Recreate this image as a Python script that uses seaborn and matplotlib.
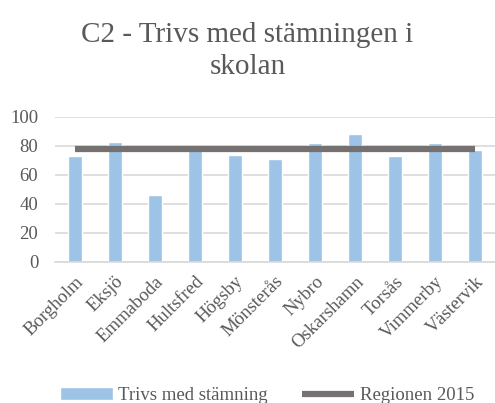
import matplotlib
matplotlib.use("Agg")
import matplotlib.pyplot as plt
import seaborn as sns
import pandas as pd

# data
kommuner = ["Borgholm", "Eksjö", "Emmaboda", "Hultsfred", "Högsby", "Mönsterås",
            "Nybro", "Oskarshamn", "Torsås", "Vimmerby", "Västervik"]
trivs = [73, 83, 46, 77, 74, 71, 82, 88, 73, 82, 77]
regionen = [78] * len(kommuner)

df = pd.DataFrame({"kommun": kommuner, "trivs": trivs, "region": regionen})

sns.set_style("white")
plt.rcParams['font.family'] = ['Liberation Serif', 'DejaVu Serif']

fig = plt.figure(figsize=(4.95, 4.03), dpi=100)
ax = fig.add_axes([0.111, 0.35, 0.889, 0.36])

sns.barplot(data=df, x="kommun", y="trivs", color="#9DC3E6", width=0.33,
            saturation=1, ax=ax, label="Trivs med stämning", zorder=2)
sns.lineplot(data=df, x="kommun", y="region", color="#767171", linewidth=4.5,
             ax=ax, label="Regionen 2015", zorder=3, solid_capstyle="butt")

ax.set_ylim(0, 100)
ax.set_xlim(-0.5, 10.5)
ax.set_yticks([0, 20, 40, 60, 80, 100])
ax.yaxis.grid(True, color="#D9D9D9", linewidth=1.2, zorder=0)
ax.set_axisbelow(True)
for s in ["top", "right", "left"]:
    ax.spines[s].set_visible(False)
ax.spines["bottom"].set_color("#D9D9D9")
ax.spines["bottom"].set_linewidth(1.2)
ax.set_xlabel("")
ax.set_ylabel("")
ax.tick_params(axis="both", length=0, colors="#595959", labelsize=13.5)
ax.tick_params(axis="y", pad=12)
ax.tick_params(axis="x", pad=8)
plt.setp(ax.get_xticklabels(), rotation=45, ha="right", rotation_mode="anchor")

fig.suptitle("C2 - Trivs med stämningen i\nskolan", y=0.945, fontsize=21,
             color="#595959", linespacing=1.3)

ax.get_legend().remove()
h, l = ax.get_legend_handles_labels()
order = [l.index("Trivs med stämning"), l.index("Regionen 2015")]
fig.legend([h[i] for i in order], [l[i] for i in order], loc="lower center",
           ncol=2, bbox_to_anchor=(0.54, -0.045), frameon=False, fontsize=13.5,
           labelcolor="#595959", handlelength=2.8, handletextpad=0.3,
           columnspacing=1.8)

fig.savefig("out.png", dpi=100)
